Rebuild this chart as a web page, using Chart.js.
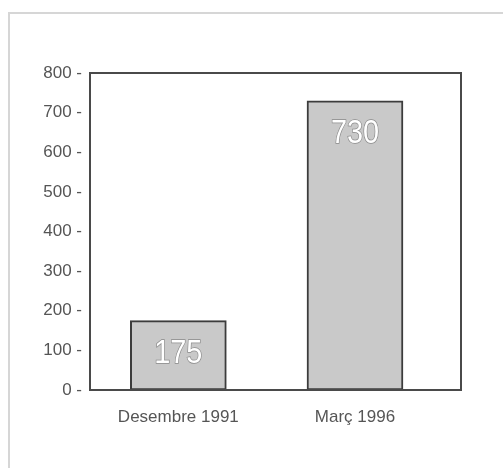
<!DOCTYPE html>
<html>
<head>
<meta charset="utf-8">
<script src="https://cdn.jsdelivr.net/npm/chart.js@4/dist/chart.umd.min.js"></script>
<style>
  html, body { margin: 0; padding: 0; background: #fff; }
  #wrap { position: relative; width: 503px; height: 468px; }
  #frame { position: absolute; left: 8px; top: 12px; right: 0; bottom: 0;
           border-top: 2px solid #d6d6d6; border-left: 2px solid #d6d6d6; }
  canvas { position: absolute; left: 0; top: 0; }
</style>
</head>
<body>
<div id="wrap">
  <div id="frame"></div>
  <canvas id="myChart" width="503" height="468"></canvas>
</div>
<script>
const categories = ['Desembre 1991', 'Març 1996'];
const values = [175, 730];
const yTicks = [0, 100, 200, 300, 400, 500, 600, 700, 800];

// a linear x axis lets the bars sit a bit left of the plot's middle, as in the print
const points = values.map((v, i) => ({ x: i + 0.5, y: v }));

const boxAndLabels = {
  id: 'boxAndLabels',
  afterDatasetsDraw(chart) {
    const ctx = chart.ctx;
    const a = chart.chartArea;
    ctx.save();
    ctx.strokeStyle = '#4a4a4a';
    ctx.lineWidth = 2;
    ctx.strokeRect(a.left, a.top, a.right - a.left, a.bottom - a.top);

    ctx.font = "34px 'Liberation Sans', Arial, sans-serif";
    ctx.textAlign = 'center';
    ctx.textBaseline = 'middle';
    ctx.lineWidth = 1.5;
    ctx.strokeStyle = '#8a8a8a';
    ctx.fillStyle = '#ffffff';
    chart.getDatasetMeta(0).data.forEach((bar, i) => {
      const txt = String(values[i]);
      ctx.save();
      ctx.translate(bar.x, bar.y + 33);
      ctx.scale(0.85, 1);   // the print uses a condensed face
      ctx.strokeText(txt, 0, 0);
      ctx.fillText(txt, 0, 0);
      ctx.restore();
    });
    ctx.restore();
  }
};

new Chart('myChart', {
  type: 'bar',
  data: {
    datasets: [{
      data: points,
      backgroundColor: '#c9c9c9',
      borderColor: '#3c3c3c',
      borderWidth: 2,
      borderSkipped: false,
      barThickness: 96
    }]
  },
  options: {
    responsive: false,
    animation: false,
    layout: { padding: { top: 73, right: 42, left: 0, bottom: 0 } },
    plugins: { legend: { display: false }, tooltip: { enabled: false } },
    scales: {
      x: {
        type: 'linear',
        min: 0,
        max: 2.1,
        offset: false,
        grid: { display: false, drawTicks: false, offset: false },
        border: { display: false },
        afterFit(scale) { scale.height = 78; },
        afterBuildTicks(scale) {
          scale.ticks = categories.map((c, i) => ({ value: i + 0.5 }));
        },
        ticks: {
          padding: 17,
          color: '#555',
          font: { family: "'Liberation Sans', Arial, sans-serif", size: 17 },
          callback: (v) => categories[Math.round(v - 0.5)]
        }
      },
      y: {
        min: 0,
        max: 800,
        grid: { display: false, drawTicks: false },
        border: { display: false },
        afterFit(scale) { scale.width = 90; },
        afterBuildTicks(scale) {
          scale.ticks = yTicks.map(v => ({ value: v }));
        },
        ticks: {
          padding: 8,
          color: '#555',
          font: { family: "'Liberation Sans', Arial, sans-serif", size: 17 },
          callback: (v) => v + ' -'
        }
      }
    }
  },
  plugins: [boxAndLabels]
});
</script>
</body>
</html>
